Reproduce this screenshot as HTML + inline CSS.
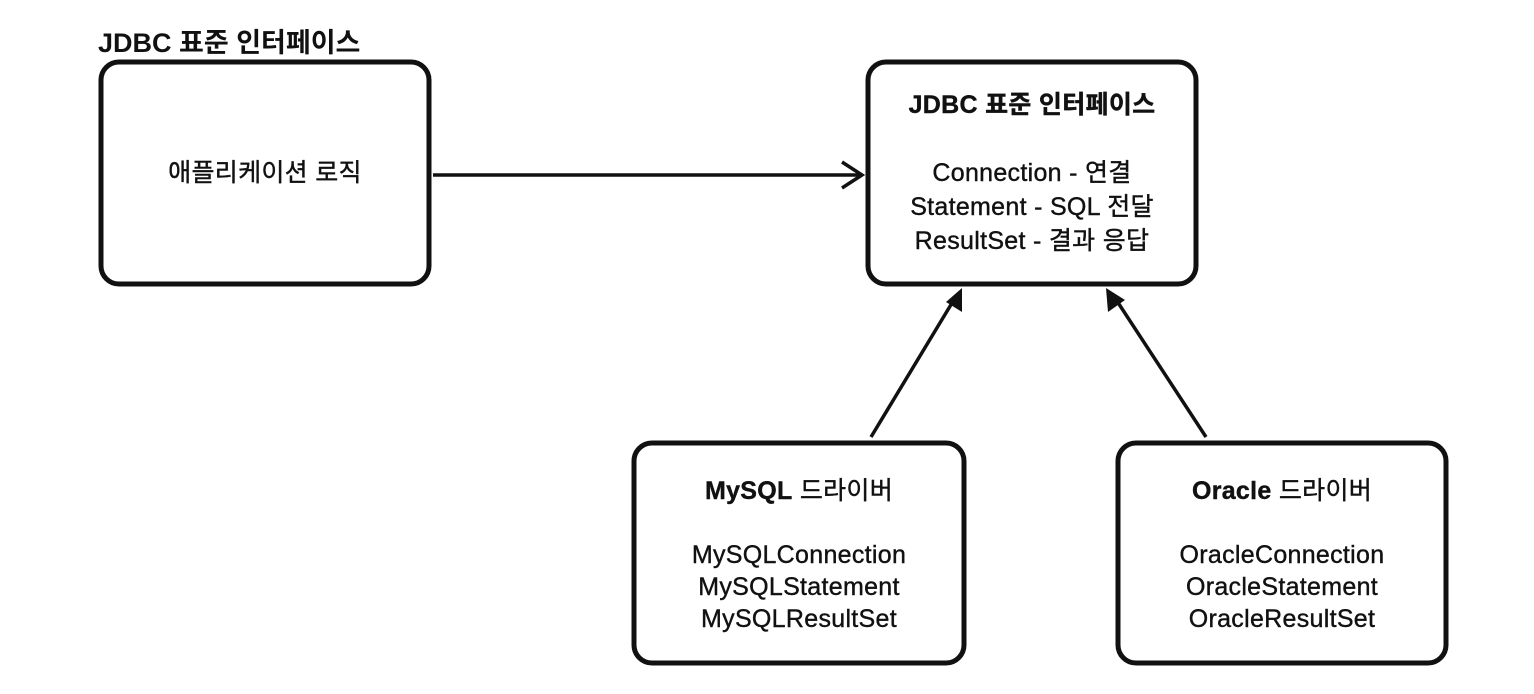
<!DOCTYPE html>
<html><head><meta charset="utf-8"><style>
html,body{margin:0;padding:0;background:#fff;}
body{width:1534px;height:694px;position:relative;overflow:hidden;font-family:"Liberation Sans","Noto Sans CJK KR",sans-serif;color:#111;}
.t{position:absolute;text-align:center;font-size:25px;line-height:34px;letter-spacing:0.3px;-webkit-text-stroke:0.4px #111;white-space:nowrap;}
.l{line-height:32px;}
</style></head><body>
<svg width="1534" height="694" style="position:absolute;left:0;top:0">
<g fill="none" stroke="#111" stroke-width="5">
<rect x="101" y="62" width="328" height="222" rx="18"/>
<rect x="868" y="62" width="328" height="222" rx="18"/>
<rect x="634" y="443" width="330" height="220" rx="18"/>
<rect x="1118" y="443" width="328" height="220" rx="18"/>
</g>
<g stroke="#111" stroke-width="3.5" fill="none">
<line x1="433" y1="175" x2="860" y2="175"/>
<polyline points="842,162 862,175 842,188"/>
<line x1="871" y1="437" x2="955" y2="298"/>
<line x1="1206" y1="437" x2="1115" y2="298"/>
</g>
<polygon points="962,288 962,312 946,302" fill="#111"/>
<polygon points="1106,288 1125,300 1108,312" fill="#111"/>
</svg>
<div style="position:absolute;left:98px;top:21px;font-size:27px;font-weight:bold;white-space:nowrap;">JDBC 표준 인터페이스</div>
<div class="t" style="left:101px;top:156px;width:328px;">애플리케이션 로직</div>
<div class="t" style="left:868px;top:88px;width:328px;"><b>JDBC 표준 인터페이스</b><br><br>Connection - 연결<br>Statement - SQL 전달<br>ResultSet - 결과 응답</div>
<div class="t l" style="left:634px;top:475px;width:330px;"><b>MySQL</b> 드라이버<br><br>MySQLConnection<br>MySQLStatement<br>MySQLResultSet</div>
<div class="t l" style="left:1118px;top:475px;width:328px;"><b>Oracle</b> 드라이버<br><br>OracleConnection<br>OracleStatement<br>OracleResultSet</div>
</body></html>
